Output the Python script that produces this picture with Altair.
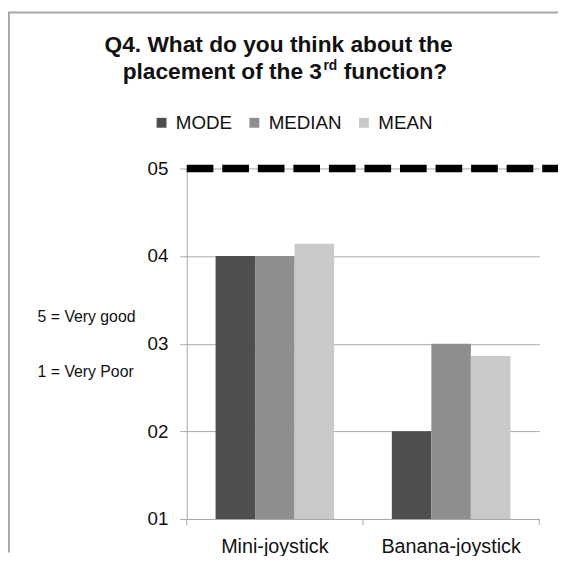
import altair as alt
import pandas as pd

categories = ["Mini-joystick", "Banana-joystick"]
stats = ["MODE", "MEDIAN", "MEAN"]
mode_vals = [4, 2]
median_vals = [4, 3]
mean_vals = [4.14, 2.86]
y_ticks = [1, 2, 3, 4, 5]
target = [5]
title_line1 = "Q4. What do you think about the"
title_line2a = "placement of the 3"
title_sup = "rd"
title_line2b = "function?"
note_top = "5 = Very good"
note_bottom = "1 = Very Poor"

rows = []
for i, c in enumerate(categories):
    for s, vals in zip(stats, [mode_vals, median_vals, mean_vals]):
        rows.append({"category": c, "stat": s, "value": vals[i]})
df = pd.DataFrame(rows)
colors = ["#4e4e4e", "#8e8e8e", "#c9c9c9"]

FONT = "Liberation Sans"
W, H = 357, 355
GRAY = "#a8a8a8"

xscale = alt.Scale(paddingInner=0, paddingOuter=0)

bars = alt.Chart(df).mark_bar().encode(
    x=alt.X("category:N", sort=categories, scale=xscale,
            axis=alt.Axis(title=None, ticks=False, labelAngle=0, labelFontSize=20,
                          labelPadding=18, labelColor="#111", domainColor=GRAY,
                          labelFont=FONT, grid=False)),
    xOffset=alt.XOffset("stat:N", sort=stats,
                        scale=alt.Scale(paddingInner=0, paddingOuter=0.73)),
    y=alt.Y("value:Q", scale=alt.Scale(domain=[1, 5], zero=False, nice=False),
            axis=alt.Axis(title=None, values=y_ticks, format="02d", labelFontSize=19,
                          labelFont=FONT, labelColor="#111", labelPadding=12,
                          tickSize=7, tickColor=GRAY, domainColor=GRAY,
                          gridColor=GRAY, grid=True)),
    y2=alt.datum(1),
    color=alt.Color("stat:N", sort=stats,
                    scale=alt.Scale(domain=stats, range=colors),
                    legend=alt.Legend(title=None, orient="none", legendX=-35, legendY=-56,
                                      direction="horizontal", symbolType="square",
                                      symbolSize=100, symbolStrokeWidth=0,
                                      labelFontSize=19, labelFont=FONT, labelColor="#111",
                                      columnPadding=13, labelOffset=5)),
)

target_df = pd.DataFrame({"target": target})
dashed = alt.Chart(target_df).mark_rule(color="black", strokeWidth=7.5,
                                        strokeDash=[27, 9]).encode(
    y=alt.Y("target:Q"),
    x=alt.value(0),
    x2=alt.value(W + 25),
)

cat_df = pd.DataFrame({"category": categories})
xticks = alt.Chart(cat_df).mark_rule(color=GRAY).encode(
    x=alt.X("category:N", sort=categories, bandPosition=0),
    y=alt.value(H),
    y2=alt.value(H + 6),
)
one = pd.DataFrame({"k": [0]})
end_tick = alt.Chart(one).mark_rule(color=GRAY).encode(
    x=alt.value(W), y=alt.value(H), y2=alt.value(H + 6))

def txt(text, x, y, size, align="center", bold=False):
    return alt.Chart(one).mark_text(
        font=FONT, fontSize=size, fontWeight="bold" if bold else "normal",
        align=align, baseline="middle", color="#111"
    ).encode(x=alt.value(x), y=alt.value(y), text=alt.value(text))

title1 = txt(title_line1, 93, -125, 23, bold=True)
title2a = txt(title_line2a, 137, -98, 23, align="right", bold=True)
title2s = txt(title_sup, 138.5, -104, 14, align="left", bold=True)
title2b = txt(title_line2b, 159, -98, 23, align="left", bold=True)
note1 = txt(note_top, -151, 151, 16, align="left")
note2 = txt(note_bottom, -151, 206, 16, align="left")

frame_left = alt.Chart(one).mark_rule(color=GRAY, strokeWidth=2).encode(
    x=alt.value(-180), y=alt.value(-158), y2=alt.value(H + 34))
frame_top = alt.Chart(one).mark_rule(color=GRAY, strokeWidth=2).encode(
    x=alt.value(-181), x2=alt.value(W + 25), y=alt.value(-158))

chart = alt.layer(
    bars, dashed, xticks, end_tick, title1, title2a, title2s, title2b,
    note1, note2, frame_left, frame_top
).properties(
    width=W, height=H,
    autosize=alt.AutoSizeParams(type="none"),
    padding={"left": 181, "top": 159, "right": 19, "bottom": 34},
).configure_view(stroke=None)

chart.save("out.html", embed_options={"renderer": "svg", "actions": False})
